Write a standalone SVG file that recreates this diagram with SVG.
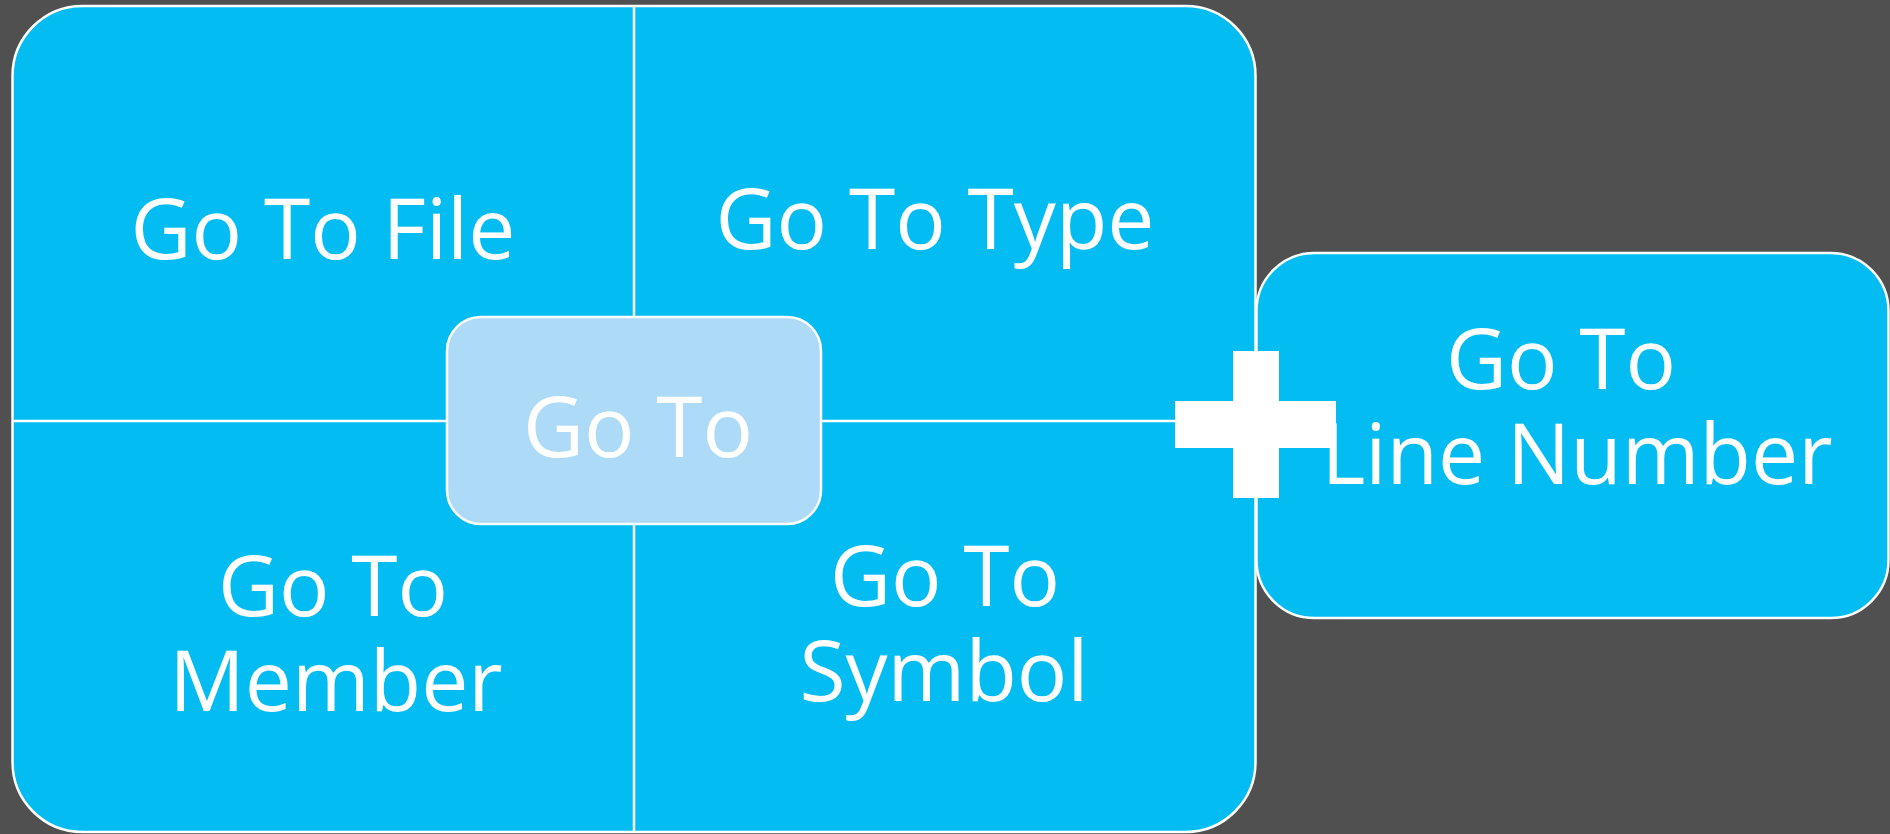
<svg xmlns="http://www.w3.org/2000/svg" width="1890" height="834" viewBox="0 0 1890 834">
<style>
.blue{fill:#03BDF2;stroke:#FFFFFF;stroke-width:2.5}
.light{fill:#ADDAF6;stroke:#FFFFFF;stroke-width:2.5}
.div{stroke:#FFFFFF;stroke-width:2.5;fill:none}
.t{font-family:"Open Sans","Noto Sans","DejaVu Sans",sans-serif;font-size:84px;fill:#FFFFFF;text-anchor:middle}
</style>
<rect x="0" y="0" width="1890" height="834" fill="#505050"/>
<g id="quadrants">
<rect class="blue" x="12.5" y="6" width="1243" height="826" rx="70" ry="70"/>
</g>
<g id="connectors">
<line class="div" x1="634" y1="6" x2="634" y2="832"/>
<line class="div" x1="12.5" y1="421" x2="1255.5" y2="421"/>
</g>
<g id="go-to-file"><text class="t" x="323" y="259">Go To File</text></g>
<g id="go-to-type"><text class="t" x="935" y="249">Go To Type</text></g>
<g id="go-to-member"><text class="t" x="333" y="616">Go To</text><text class="t" x="336" y="711">Member</text></g>
<g id="go-to-symbol"><text class="t" x="945" y="606">Go To</text><text class="t" x="944" y="701">Symbol</text></g>
<g id="go-to">
<rect class="light" x="447" y="317" width="374" height="207" rx="34" ry="34"/>
<text class="t" x="638" y="457">Go To</text>
</g>
<g id="go-to-line-number">
<rect class="blue" x="1256.5" y="253" width="632" height="365" rx="58" ry="58"/>
</g>
<g id="plus">
<rect x="1233" y="351" width="46" height="147" fill="#FFFFFF"/>
<rect x="1175" y="401" width="161" height="47" fill="#FFFFFF"/>
</g>
<g id="go-to-line-number-label"><text class="t" x="1561" y="389">Go To</text><text class="t" x="1577" y="484">Line Number</text></g>
</svg>
